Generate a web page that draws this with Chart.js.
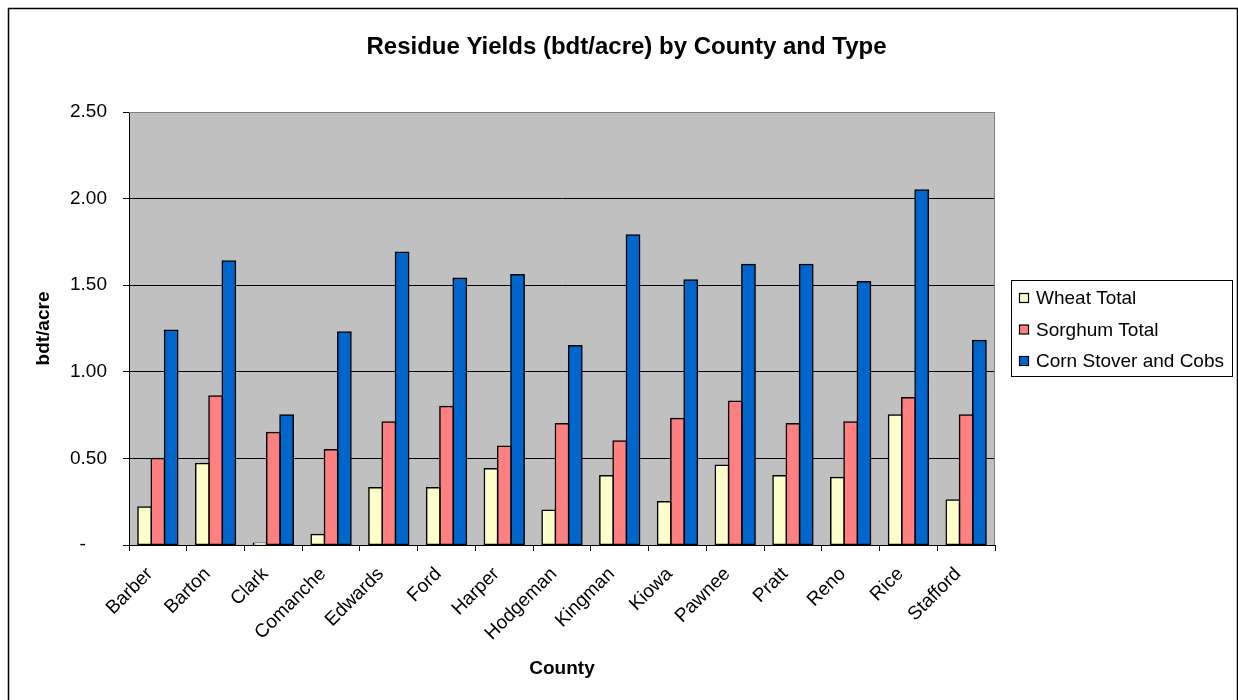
<!DOCTYPE html>
<html>
<head>
<meta charset="utf-8">
<title>Residue Yields by County and Type</title>
<script src="https://cdn.jsdelivr.net/npm/chart.js@4/dist/chart.umd.min.js"></script>
<style>
  html, body { margin: 0; padding: 0; background: #fff; }
  #wrap { width: 1238px; height: 700px; position: relative; }
  canvas { display: block; }
</style>
</head>
<body>
<div id="wrap"><canvas id="chart" width="1238" height="700"></canvas></div>
<script>
// Residue yields in bone-dry tons per acre, by county
const counties = ['Barber', 'Barton', 'Clark', 'Comanche', 'Edwards', 'Ford', 'Harper',
  'Hodgeman', 'Kingman', 'Kiowa', 'Pawnee', 'Pratt', 'Reno', 'Rice', 'Stafford'];
const wheatTotal   = [0.22, 0.47, 0.01, 0.06, 0.33, 0.33, 0.44, 0.20, 0.40, 0.25, 0.46, 0.40, 0.39, 0.75, 0.26];
const sorghumTotal = [0.50, 0.86, 0.65, 0.55, 0.71, 0.80, 0.57, 0.70, 0.60, 0.73, 0.83, 0.70, 0.71, 0.85, 0.75];
const cornStover   = [1.24, 1.64, 0.75, 1.23, 1.69, 1.54, 1.56, 1.15, 1.79, 1.53, 1.62, 1.62, 1.52, 2.05, 1.18];

const seriesNames = ['Wheat Total', 'Sorghum Total', 'Corn Stover and Cobs'];
const yTickLabels = ['-', '0.50', '1.00', '1.50', '2.00', '2.50'];

const chartTitle = 'Residue Yields (bdt/acre) by County and Type';
const xAxisTitle = 'County';
const yAxisTitle = 'bdt/acre';

const FONT = '"Liberation Sans", Arial, Helvetica, sans-serif';

// Frame, grey plot background, title and boxed legend
const decorations = {
  id: 'decorations',
  beforeDraw(chart) {
    const { ctx, chartArea: a } = chart;
    ctx.save();
    ctx.fillStyle = '#ffffff';
    ctx.fillRect(0, 0, chart.width, chart.height);
    ctx.fillStyle = '#C0C0C0';
    ctx.fillRect(a.left, a.top, a.right - a.left, a.bottom - a.top);
    ctx.restore();
  },
  afterDraw(chart) {
    const { ctx, chartArea: a } = chart;
    ctx.save();
    // plot border on the top and right sides
    ctx.strokeStyle = '#808080';
    ctx.lineWidth = 1;
    ctx.beginPath();
    ctx.moveTo(a.left, a.top + 0.5);
    ctx.lineTo(a.right - 0.5, a.top + 0.5);
    ctx.lineTo(a.right - 0.5, a.bottom);
    ctx.stroke();

    // outer frame
    ctx.strokeStyle = '#000';
    ctx.lineWidth = 1.5;
    ctx.strokeRect(8.5, 8.5, 1229, 720);

    // title
    ctx.fillStyle = '#000';
    ctx.font = 'bold 24px ' + FONT;
    ctx.textAlign = 'center';
    ctx.textBaseline = 'alphabetic';
    ctx.fillText(chartTitle, 626.5, 54);

    // legend
    const lx = 1011, ly = 280, lw = 221, lh = 96;
    ctx.fillStyle = '#fff';
    ctx.fillRect(lx, ly, lw, lh);
    ctx.strokeStyle = '#000';
    ctx.lineWidth = 1;
    ctx.strokeRect(lx + 0.5, ly + 0.5, lw, lh);
    ctx.font = '19px ' + FONT;
    ctx.textAlign = 'left';
    ctx.textBaseline = 'middle';
    chart.data.datasets.forEach((ds, i) => {
      const cy = ly + 18 + i * 31.5;
      ctx.fillStyle = ds.backgroundColor;
      ctx.fillRect(lx + 8, cy - 4.5, 9, 9);
      ctx.strokeStyle = '#000';
      ctx.lineWidth = 1.2;
      ctx.strokeRect(lx + 8.5, cy - 4.5, 9, 9);
      ctx.fillStyle = '#000';
      ctx.fillText(ds.label, lx + 25, cy + 1);
    });
    ctx.restore();
  }
};

new Chart(document.getElementById('chart'), {
  type: 'bar',
  data: {
    labels: counties,
    datasets: [
      { label: seriesNames[0], data: wheatTotal,   backgroundColor: '#FFFFCC' },
      { label: seriesNames[1], data: sorghumTotal, backgroundColor: '#FF8080' },
      { label: seriesNames[2], data: cornStover,   backgroundColor: '#0066CC' }
    ]
  },
  options: {
    responsive: false,
    animation: false,
    devicePixelRatio: 1,
    layout: { padding: { left: 24, right: 243, top: 112, bottom: 20 } },
    datasets: {
      bar: {
        borderColor: '#000',
        borderWidth: 1.5,
        inflateAmount: 0.75,
        borderSkipped: false,
        categoryPercentage: 0.69,
        barPercentage: 1.0
      }
    },
    plugins: {
      legend: { display: false },
      title: { display: false },
      tooltip: { enabled: false }
    },
    scales: {
      x: {
        afterFit(scale) { scale.height = 135; },
        grid: {
          offset: true,
          drawOnChartArea: false,
          drawTicks: true,
          tickLength: 6,
          color: '#000',
          tickColor: '#000'
        },
        border: { display: true, color: '#000', width: 1 },
        ticks: {
          autoSkip: false,
          minRotation: 45,
          maxRotation: 45,
          padding: 12,
          labelOffset: -8,
          color: '#000',
          font: { family: FONT, size: 19 }
        },
        title: {
          display: true,
          text: xAxisTitle,
          color: '#000',
          padding: { top: 0, bottom: 0 },
          font: { family: FONT, size: 19, weight: 'bold' }
        }
      },
      y: {
        min: 0,
        max: 2.5,
        afterFit(scale) { scale.width = 105; },
        grid: {
          drawTicks: true,
          tickLength: 6,
          color: (c) => (c.tick && c.tick.value === 2.5 ? '#808080' : '#000'),
          tickColor: '#000'
        },
        border: { display: true, color: '#000', width: 1 },
        ticks: {
          stepSize: 0.5,
          padding: 16,
          color: '#000',
          font: { family: FONT, size: 19 },
          callback: (value, index) => {
            const t = yTickLabels[index];
            return t === '-' ? t + '\u2007\u2007' : t;
          }
        },
        title: {
          display: true,
          text: yAxisTitle,
          color: '#000',
          padding: { top: 8, bottom: 0 },
          font: { family: FONT, size: 19, weight: 'bold' }
        }
      }
    }
  },
  plugins: [decorations]
});
</script>
</body>
</html>
